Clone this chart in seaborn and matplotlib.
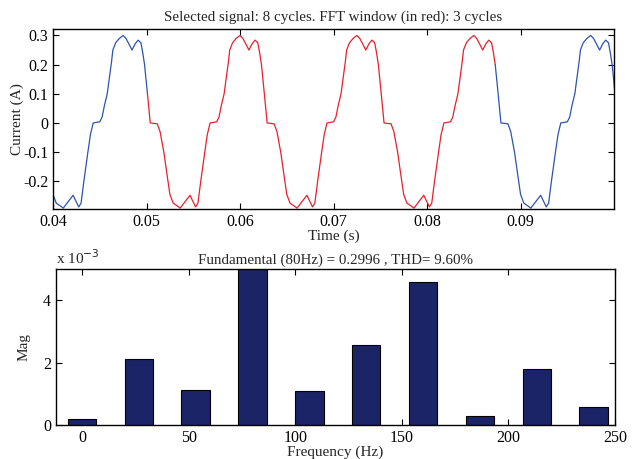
import numpy as np
import pandas as pd
import seaborn as sns
import matplotlib.pyplot as plt
from matplotlib.ticker import FuncFormatter

cyclePhaseMs = [0.00, 0.70, 0.95, 1.20, 1.50, 1.75, 1.96, 2.10, 2.40, 2.80, 3.20, 3.50,
                3.80, 4.15, 4.50, 4.80, 5.10, 5.30, 5.49, 5.80, 6.10, 6.85, 7.15, 7.55,
                7.95, 8.20, 8.55, 9.00, 9.30, 9.70, 10.35, 10.95, 11.20, 11.50, 11.93, 12.20]
cycleCurrent = [0.000, 0.004, 0.020, 0.060, 0.100, 0.160, 0.210, 0.250, 0.275, 0.290, 0.300, 0.290,
                0.272, 0.250, 0.272, 0.284, 0.275, 0.240, 0.200, 0.100, 0.000, -0.003, -0.030, -0.100,
                -0.190, -0.245, -0.275, -0.285, -0.292, -0.275, -0.248, -0.288, -0.275, -0.200, -0.100, -0.040]
cycleStarts = [0.0318, 0.0443, 0.0568, 0.0693, 0.0818, 0.0943]
fftWindow = (0.0500, 0.0875)

# FFT bins (Hz) and magnitudes
freqs = [0, 26.67, 53.33, 80, 106.67, 133.33, 160, 186.67, 213.33, 240]
mags = [0.18e-3, 2.10e-3, 1.12e-3, 0.2996, 1.09e-3, 2.55e-3, 4.57e-3, 0.28e-3, 1.80e-3, 0.59e-3]

titleTop = 'Selected signal: 8 cycles. FFT window (in red): 3 cycles'
titleBottom = 'Fundamental (80Hz) = 0.2996 , THD= 9.60%'

rows = []
for start in cycleStarts:
    for ph, cur in zip(cyclePhaseMs, cycleCurrent):
        rows.append((start + ph / 1000.0, cur))
dfSig = pd.DataFrame(rows, columns=['Time', 'Current'])
dfSig = dfSig[(dfSig['Time'] > 0.0385) & (dfSig['Time'] < 0.1015)].reset_index(drop=True)
inWin = (dfSig['Time'] >= fftWindow[0]) & (dfSig['Time'] <= fftWindow[1])
firstIdx = inWin.idxmax()
lastIdx = inWin[::-1].idxmax()
dfBefore = dfSig.loc[:firstIdx]
dfWin = dfSig.loc[firstIdx:lastIdx]
dfAfter = dfSig.loc[lastIdx:]

sns.set_theme(style='ticks')
plt.rcParams['font.family'] = ['Liberation Serif', 'DejaVu Serif']
plt.rcParams['xtick.direction'] = 'in'
plt.rcParams['ytick.direction'] = 'in'
plt.rcParams['xtick.top'] = True
plt.rcParams['ytick.right'] = True
plt.rcParams['axes.linewidth'] = 1.0
plt.rcParams['axes.edgecolor'] = 'black'

fsTitle = 10.8
fsTick = 11.5
fsLabel = 11
fig = plt.figure(figsize=(6.34, 4.59), dpi=100)
ax1 = fig.add_axes([0.0836, 0.5447, 0.885, 0.392])
ax2 = fig.add_axes([0.0883, 0.0741, 0.8817, 0.340])

blue = '#2c54b4'
red = '#e8202c'
for part, col in ((dfBefore, blue), (dfWin, red), (dfAfter, blue)):
    sns.lineplot(data=part, x='Time', y='Current', ax=ax1, sort=False, estimator=None,
                 color=col, linewidth=0.9)
ax1.set_xlim(0.04, 0.1)
ax1.set_ylim(-0.295, 0.322)
ax1.set_xticks([0.04, 0.05, 0.06, 0.07, 0.08, 0.09])
ax1.set_yticks([-0.2, -0.1, 0, 0.1, 0.2, 0.3])
ax1.set_yticklabels(['-0.2', '-0.1', '0', '0.1', '0.2', '0.3'])
ax1.set_title(titleTop, fontsize=fsTitle, pad=6)
ax1.set_xlabel('Time (s)', fontsize=fsLabel, labelpad=0)
ax1.set_ylabel('Current (A)', fontsize=fsLabel, labelpad=-1)

sns.barplot(x=freqs, y=mags, ax=ax2, native_scale=True, width=0.5, color='#1c2468',
            saturation=1, edgecolor='black', linewidth=0.8)
ax2.set_xlim(-12.2, 250)
ax2.set_ylim(0, 5e-3)
ax2.set_xticks([0, 50, 100, 150, 200, 250])
ax2.set_yticks([0, 2e-3, 4e-3])
ax2.yaxis.set_major_formatter(FuncFormatter(lambda v, p: '%g' % round(v * 1e3, 6)))
ax2.set_title(titleBottom, fontsize=fsTitle, pad=4)
ax2.set_xlabel('Frequency (Hz)', fontsize=fsLabel, labelpad=0)
ax2.set_ylabel('Mag', fontsize=fsLabel, labelpad=9)
ax2.text(0.0, 1.01, 'x 10$^{-3}$', transform=ax2.transAxes, fontsize=fsLabel, ha='left', va='bottom')

for ax in (ax1, ax2):
    ax.tick_params(labelsize=fsTick, length=4, width=0.8, colors='black')
    for sp in ax.spines.values():
        sp.set_visible(True)
        sp.set_color('black')

fig.savefig('out.png', dpi=100)
